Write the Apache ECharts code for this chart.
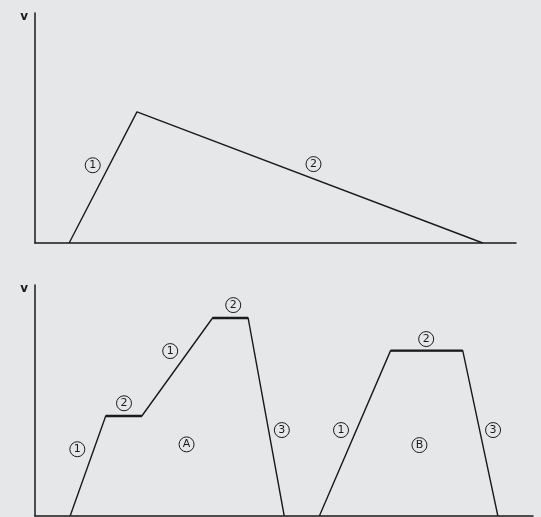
<!DOCTYPE html>
<html>
<head>
<meta charset="utf-8">
<style>
  html, body { margin: 0; padding: 0; background: #e6e7e9; }
  #chart { width: 541px; height: 517px; }
</style>
<script src="https://cdn.jsdelivr.net/npm/echarts@6/dist/echarts.min.js"></script>
</head>
<body>
<div id="chart"></div>
<script>
// Upper diagram: speed rises (1), then falls slowly (2)
const upperTime = [7.1, 21.2, 93.1];
const upperSpeed = [0, 57, 0];
const upperTags = ['1', '2'];
const upperTagTime = [12.0, 57.9];
const upperTagSpeed = [33.8, 34.3];

// Lower diagram: run A (accelerate, cruise, accelerate, cruise, brake)
const runATime = [7.3, 14.7, 22.2, 36.9, 44.3, 51.8];
const runASpeed = [0, 43.3, 43.3, 85.7, 85.7, 0];
// Lower diagram: run B (accelerate, cruise, brake)
const runBTime = [59.1, 73.9, 88.9, 96.2];
const runBSpeed = [0, 71.6, 71.6, 0];
// Phase tags and run names for the lower diagram
const lowerTags = ['1', '2', '1', '2', 'A', '3', '1', 'B', '2', '3'];
const lowerTagTime = [8.8, 18.5, 28.1, 41.2, 31.5, 51.3, 63.6, 79.9, 81.3, 95.2];
const lowerTagSpeed = [28.9, 48.8, 71.4, 91.3, 31.0, 37.2, 37.2, 30.7, 76.6, 37.2];

const ink = '#1a1a1a';
const zip = (xs, ys) => xs.map((x, i) => [x, ys[i]]);

function pathSeries(xs, ys, idx) {
  return {
    type: 'line', xAxisIndex: idx, yAxisIndex: idx,
    data: zip(xs, ys), symbol: 'none', silent: true,
    lineStyle: { color: ink, width: 1.4 }
  };
}
// Cruising phases are drawn heavier
function cruiseSeries(xs, ys, from, idx) {
  return {
    type: 'line', xAxisIndex: idx, yAxisIndex: idx,
    data: zip(xs, ys).slice(from, from + 2), symbol: 'none', silent: true,
    lineStyle: { color: ink, width: 2.4 }
  };
}
function tagSeries(tags, xs, ys, idx) {
  return {
    type: 'scatter', xAxisIndex: idx, yAxisIndex: idx, silent: true,
    data: tags.map((t, i) => ({ value: [xs[i], ys[i]], name: t })),
    symbol: 'circle', symbolSize: 15,
    itemStyle: { color: 'rgba(0,0,0,0)', borderColor: ink, borderWidth: 1, opacity: 1 },
    label: {
      show: true, position: 'inside', formatter: p => p.name,
      color: ink, fontSize: 11, fontFamily: 'DejaVu Sans'
    },
    z: 5
  };
}

const axisLineStyle = { show: true, lineStyle: { color: ink, width: 1.5 } };
function xAxis(idx, max) {
  return {
    type: 'value', gridIndex: idx, min: 0, max: max,
    axisLine: axisLineStyle, axisTick: { show: false },
    axisLabel: { show: false }, splitLine: { show: false }
  };
}
function yAxis(idx) {
  return {
    type: 'value', gridIndex: idx, min: 0, max: 100,
    name: 'v', nameLocation: 'end', nameGap: -10,
    nameTextStyle: {
      color: ink, fontSize: 12, fontWeight: 'bold', fontFamily: 'DejaVu Sans',
      align: 'right', padding: [0, 7, 0, 0]
    },
    axisLine: axisLineStyle, axisTick: { show: false },
    axisLabel: { show: false }, splitLine: { show: false }
  };
}

const chart = echarts.init(document.getElementById('chart'), null, { renderer: 'canvas' });
chart.setOption({
  backgroundColor: '#e6e7e9',
  animation: false,
  grid: [
    { left: 35, top: 13, width: 481, height: 230 },
    { left: 35, top: 285, width: 498, height: 231 }
  ],
  xAxis: [xAxis(0, 100), xAxis(1, 103.5)],
  yAxis: [yAxis(0), yAxis(1)],
  series: [
    pathSeries(upperTime, upperSpeed, 0),
    tagSeries(upperTags, upperTagTime, upperTagSpeed, 0),
    pathSeries(runATime, runASpeed, 1),
    cruiseSeries(runATime, runASpeed, 1, 1),
    cruiseSeries(runATime, runASpeed, 3, 1),
    pathSeries(runBTime, runBSpeed, 1),
    cruiseSeries(runBTime, runBSpeed, 1, 1),
    tagSeries(lowerTags, lowerTagTime, lowerTagSpeed, 1)
  ]
});
</script>
</body>
</html>
